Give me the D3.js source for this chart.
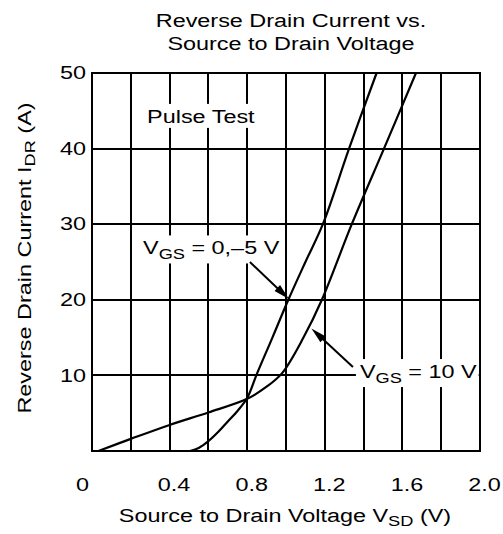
<!DOCTYPE html>
<html><head><meta charset="utf-8">
<script src="https://cdn.jsdelivr.net/npm/d3@7"></script>
<style>
body{margin:0;background:#fff}
svg text{font-family:"Liberation Sans",Arial,Helvetica,sans-serif;fill:#000}
</style>
</head><body>
<svg id="c" width="503" height="534"></svg>
<script>
// ---- data ----
const xTicks = [0, 0.4, 0.8, 1.2, 1.6, 2.0];
const xTickLabels = ["0", "0.4", "0.8", "1.2", "1.6", "2.0"];
const yTicks = [10, 20, 30, 40, 50];
const yTickLabels = ["10", "20", "30", "40", "50"];
const xGrid = [0.2, 0.4, 0.6, 0.8, 1.0, 1.2, 1.4, 1.6, 1.8];
const yGrid = [10, 20, 30, 40];
// VGS = 0, -5 V
const vsdA = [0.505, 0.55, 0.6, 0.65, 0.7, 0.75, 0.8, 0.85, 0.93, 1.012, 1.10, 1.19, 1.325, 1.467];
const idrA = [0, 0.4, 1.3, 2.5, 3.9, 5.3, 7.0, 10.2, 15, 20, 25, 30, 40, 50];
// VGS = 10 V
const vsdB = [0.033, 0.2, 0.4, 0.6, 0.8, 0.9, 0.98, 1.09, 1.185, 1.339, 1.505, 1.67];
const idrB = [0, 1.6, 3.45, 5.1, 6.9, 8.5, 10.3, 15, 20, 30, 40, 50];
// annotations (data units)
const labelA = {x: 0.263, y: 26.0, main: "V", sub: "GS", rest: " = 0,\u20135 V"};
const labelB = {x: 1.381, y: 9.65, main: "V", sub: "GS", rest: " = 10 V"};
const pulse = {x: 0.284, y: 43.4, text: "Pulse Test"};
const arrowA = {x0: 0.814, y0: 25.0, x1: 1.015, y1: 20.1};
const arrowB = {x0: 1.345, y0: 11.1, x1: 1.131, y1: 16.2};

// ---- layout ----
const W = 503, H = 534;
const M = {l: 92, t: 73, r: 23, b: 83};
const pw = W - M.l - M.r, ph = H - M.t - M.b;
const STRETCH = 1.3;
const FS = 18;

const svg = d3.select("#c");
const g = svg.append("g").attr("transform", `translate(${M.l},${M.t})`);
const x = d3.scaleLinear().domain([0, 2.0]).range([0, pw]);
const y = d3.scaleLinear().domain([0, 50]).range([ph, 0]);

function stretch(sel) {
  sel.each(function () {
    const len = this.getComputedTextLength();
    d3.select(this).attr("textLength", len * STRETCH).attr("lengthAdjust", "spacingAndGlyphs");
  });
  return sel;
}

// grid
const gridG = g.append("g").attr("stroke", "#000").attr("stroke-width", 2).attr("shape-rendering", "crispEdges");
gridG.selectAll("line.v").data(xGrid).join("line")
  .attr("x1", d => x(d)).attr("x2", d => x(d)).attr("y1", 0).attr("y2", ph);
gridG.selectAll("line.h").data(yGrid).join("line")
  .attr("y1", d => y(d)).attr("y2", d => y(d)).attr("x1", 0).attr("x2", pw);

const knockG = g.append("g");
const curveG = g.append("g");
const textG = g.append("g");

// frame
g.append("rect").attr("x", 0).attr("y", 0).attr("width", pw).attr("height", ph)
  .attr("fill", "none").attr("stroke", "#000").attr("stroke-width", 2).attr("shape-rendering", "crispEdges");

// curves
const line = d3.line().x(d => x(d[0])).y(d => y(d[1])).curve(d3.curveCatmullRom.alpha(0.5));
[[vsdA, idrA], [vsdB, idrB]].forEach(([vs, is]) => {
  curveG.append("path").datum(vs.map((v, i) => [v, is[i]]))
    .attr("d", line).attr("fill", "none").attr("stroke", "#000").attr("stroke-width", 2.2);
});

// in-plot labels
function addLabel(L) {
  const t = textG.append("text").attr("x", x(L.x)).attr("y", y(L.y)).attr("font-size", FS);
  t.append("tspan").text(L.main);
  t.append("tspan").attr("font-size", 14).attr("dy", 5).text(L.sub);
  t.append("tspan").attr("dy", -5).text(L.rest);
  stretch(t);
  return t;
}
const tA = addLabel(labelA);
const tB = addLabel(labelB);
const tP = textG.append("text").attr("x", x(pulse.x)).attr("y", y(pulse.y)).attr("font-size", FS).text(pulse.text);
stretch(tP);
[tA, tB, tP].forEach(t => {
  const b = t.node().getBBox();
  knockG.append("rect").attr("x", b.x - 4).attr("y", b.y - 3).attr("width", b.width + 6).attr("height", b.height + 4)
    .attr("fill", "#fff");
});

// arrows
function arrow(A) {
  const p0 = [x(A.x0), y(A.y0)], p1 = [x(A.x1), y(A.y1)];
  const dx = p1[0] - p0[0], dy = p1[1] - p0[1], L = Math.hypot(dx, dy);
  const ux = dx / L, uy = dy / L, nx = -uy, ny = ux;
  const hl = 16, hw = 4;
  const bx = p1[0] - ux * hl, by = p1[1] - uy * hl;
  textG.append("line").attr("x1", p0[0]).attr("y1", p0[1]).attr("x2", bx + ux * 2).attr("y2", by + uy * 2)
    .attr("stroke", "#000").attr("stroke-width", 2);
  textG.append("path").attr("d", `M${p1[0]},${p1[1]}L${bx + nx * hw},${by + ny * hw}L${bx - nx * hw},${by - ny * hw}Z`)
    .attr("fill", "#000");
}
arrow(arrowA);
arrow(arrowB);

// axes
const xAxis = g.append("g").attr("transform", `translate(0,${ph})`)
  .call(d3.axisBottom(x).tickValues(xTicks).tickSize(0).tickPadding(27).tickFormat((d, i) => xTickLabels[i]));
xAxis.select(".domain").remove();
xAxis.selectAll("text").attr("font-size", FS).attr("font-family", null)
  .attr("dx", d => d === 0 ? -10 : 4).call(stretch);

const yAxis = g.append("g")
  .call(d3.axisLeft(y).tickValues(yTicks).tickSize(0).tickPadding(6).tickFormat((d, i) => yTickLabels[i]));
yAxis.select(".domain").remove();
yAxis.selectAll("text").attr("font-size", FS).attr("font-family", null).call(stretch);

// titles
const title1 = svg.append("text").attr("x", 291).attr("y", 27).attr("text-anchor", "middle").attr("font-size", FS)
  .text("Reverse Drain Current vs.");
const title2 = svg.append("text").attr("x", 291).attr("y", 50).attr("text-anchor", "middle").attr("font-size", FS)
  .text("Source to Drain Voltage");
stretch(title1); stretch(title2);

const xt = svg.append("text").attr("x", 285).attr("y", 522).attr("text-anchor", "middle").attr("font-size", FS);
xt.append("tspan").text("Source to Drain Voltage V");
xt.append("tspan").attr("font-size", 14).attr("dy", 4).text("SD");
xt.append("tspan").attr("dy", -4).text(" (V)");
stretch(xt);

const yt = svg.append("text").attr("transform", "translate(31,258) rotate(-90)").attr("text-anchor", "middle").attr("font-size", FS);
yt.append("tspan").text("Reverse Drain Current I");
yt.append("tspan").attr("font-size", 14).attr("dy", 4).text("DR");
yt.append("tspan").attr("dy", -4).text(" (A)");
stretch(yt);
</script>
</body></html>
